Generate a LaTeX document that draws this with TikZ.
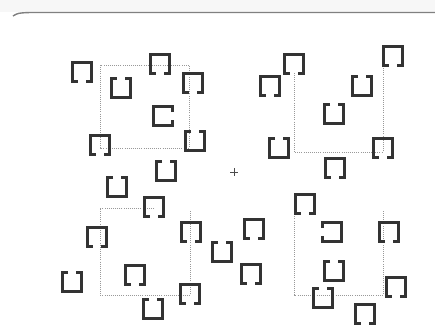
\documentclass[tikz,border=0pt]{standalone}
\usepackage{tikz}

\tikzset{
  clampline/.style={draw=black!80,line width=3pt,line join=miter},
  guide/.style={draw=black!40,line width=0.8pt,densely dotted},
  clamp/.pic={\draw[clampline] (-4,-9.5) -- (-9.5,-9.5) -- (-9.5,9.5) -- (9.5,9.5) -- (9.5,-9.5) -- (4,-9.5);}
}

\begin{document}
\begin{tikzpicture}[x=0.03cm,y=-0.03cm]
  \useasboundingbox (0,0) rectangle (435,332);
  \fill[black!3] (0,0) rectangle (435,12);
  \draw[black!50,line width=1.2pt] (13,16) .. controls (18,13) .. (30,12.5) -- (435,12.5);
  % guide lines
  \draw[guide] (100,65) rectangle (189,148);
  \draw[guide] (294,73) -- (294,152) -- (383,152) -- (383,66);
  \draw[guide] (154,208) -- (100,208) -- (100,295) -- (190,295) -- (190,210);
  \draw[guide] (294,210) -- (294,295) -- (383,295) -- (383,210);
  % open at the top
  \foreach \p in {(121,88),(195,141),(166,171),(362,86),(334,114),(279,148),
                  (117,187),(222,252),(72,282),(153,309),(334,271),(323,298)}
    \pic at \p {clamp};
  % open at the bottom
  \foreach \p in {(82,72),(160,64),(193,83),(100,145),(294,64),(270,86),(393,56),
                  (383,148),(335,168),(154,207),(97,237),(191,232),(135,275),(190,294),
                  (305,204),(389,232),(396,287),(365,314),(254,229),(251,274)}
    \pic[rotate=180] at \p {clamp};
  \pic[rotate=-90] at (163,116) {clamp};
  \pic[rotate=90] at (332,232) {clamp};
  % centre mark
  \draw[black!70,line width=0.8pt] (230,172) -- (238,172) (234,168) -- (234,176);
\end{tikzpicture}
\end{document}
